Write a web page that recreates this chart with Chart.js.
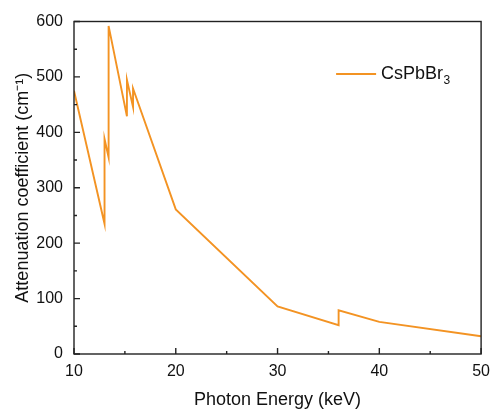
<!DOCTYPE html>
<html>
<head>
<meta charset="utf-8">
<script src="https://cdn.jsdelivr.net/npm/chart.js@4"></script>
<style>
  html, body { margin: 0; padding: 0; background: #fff; }
  #wrap { width: 498px; height: 412px; }
</style>
</head>
<body>
<div id="wrap"><canvas id="attChart" width="498" height="412"></canvas></div>
<script>
// photon energy (keV) and attenuation coefficient (cm^-1)
const energies = [10, 13.0, 13.0, 13.4, 13.4, 15.2, 15.2, 15.8, 15.8, 20, 30, 36.0, 36.0, 40, 50];
const coefficients = [475, 235, 388, 355, 592, 429, 495, 446, 479, 261, 86, 52, 79, 58, 32];
const seriesName = 'CsPbBr';
const seriesSub = '3';
const xTicks = [10, 20, 30, 40, 50];
const yTicks = [0, 100, 200, 300, 400, 500, 600];

const FONT = 'Liberation Sans, Arial, sans-serif';
const INK = '#111';
const ORANGE = '#F39323';

const points = energies.map((e, i) => ({ x: e, y: coefficients[i] }));

// frame, inward ticks (major + minor) and the in-plot legend
const framePlugin = {
    id: 'frame',
    afterDraw(chart) {
        const ctx = chart.ctx;
        const a = chart.chartArea;
        const xs = chart.scales.x;
        const ys = chart.scales.y;
        ctx.save();
        ctx.strokeStyle = '#222';
        ctx.lineWidth = 1.4;
        ctx.strokeRect(a.left, a.top, a.right - a.left, a.bottom - a.top);

        ctx.beginPath();
        xTicks.forEach((v, i) => {
            const px = xs.getPixelForValue(v);
            ctx.moveTo(px, a.bottom);
            ctx.lineTo(px, a.bottom - 6);
            if (i < xTicks.length - 1) {
                const mx = xs.getPixelForValue((v + xTicks[i + 1]) / 2);
                ctx.moveTo(mx, a.bottom);
                ctx.lineTo(mx, a.bottom - 3);
            }
        });
        yTicks.forEach((v, i) => {
            const py = ys.getPixelForValue(v);
            ctx.moveTo(a.left, py);
            ctx.lineTo(a.left + 6, py);
            if (i < yTicks.length - 1) {
                const my = ys.getPixelForValue((v + yTicks[i + 1]) / 2);
                ctx.moveTo(a.left, my);
                ctx.lineTo(a.left + 3, my);
            }
        });
        ctx.stroke();

        // legend
        const lx = a.right - 145;
        const ly = a.top + 52.5;
        ctx.strokeStyle = ORANGE;
        ctx.lineWidth = 2;
        ctx.beginPath();
        ctx.moveTo(lx, ly);
        ctx.lineTo(lx + 40, ly);
        ctx.stroke();
        ctx.fillStyle = INK;
        ctx.textBaseline = 'middle';
        ctx.textAlign = 'left';
        ctx.font = '18px ' + FONT;
        ctx.fillText(seriesName, lx + 45, ly);
        const w = ctx.measureText(seriesName).width;
        ctx.font = '12px ' + FONT;
        ctx.fillText(seriesSub, lx + 45 + w + 0.5, ly + 7);
        ctx.restore();
    }
};

const ctx = document.getElementById('attChart').getContext('2d');
new Chart(ctx, {
    type: 'line',
    data: {
        datasets: [{
            label: seriesName + seriesSub,
            data: points,
            borderColor: ORANGE,
            borderWidth: 1.9,
            pointRadius: 0,
            tension: 0,
            fill: false
        }]
    },
    options: {
        responsive: false,
        animation: false,
        devicePixelRatio: 1,
        layout: { padding: { top: 21.5, right: 11, left: 0, bottom: 0 } },
        plugins: {
            legend: { display: false },
            tooltip: { enabled: false }
        },
        scales: {
            x: {
                type: 'linear',
                min: 10,
                max: 50,
                afterFit(scale) { scale.height = 58; },
                afterBuildTicks(scale) { scale.ticks = xTicks.map(v => ({ value: v })); },
                grid: { display: false, drawTicks: false },
                border: { display: false },
                ticks: {
                    padding: 8,
                    color: INK,
                    font: { family: FONT, size: 16 },
                    maxRotation: 0
                },
                title: {
                    display: true,
                    text: 'Photon Energy (keV)',
                    color: INK,
                    font: { family: FONT, size: 18 },
                    padding: { top: 0, bottom: 1.5 }
                }
            },
            y: {
                min: 0,
                max: 600,
                afterFit(scale) { scale.width = 74; },
                afterBuildTicks(scale) { scale.ticks = yTicks.map(v => ({ value: v })); },
                grid: { display: false, drawTicks: false },
                border: { display: false },
                ticks: {
                    padding: 11,
                    color: INK,
                    font: { family: FONT, size: 16 }
                },
                title: {
                    display: true,
                    text: 'Attenuation coefficient (cm\u207B\u00B9)',
                    color: INK,
                    font: { family: FONT, size: 18 },
                    padding: { top: 12, bottom: 0 }
                }
            }
        }
    },
    plugins: [framePlugin]
});
</script>
</body>
</html>
